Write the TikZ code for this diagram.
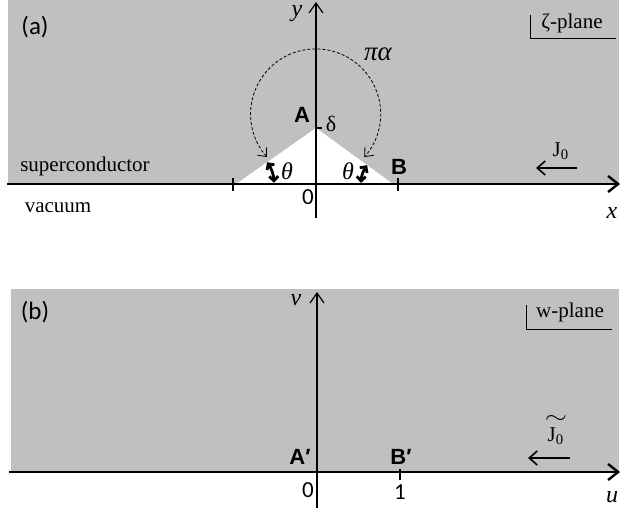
\documentclass[tikz,border=0pt]{standalone}
\usepackage{fontspec}
\setmainfont{Liberation Serif}
\newfontfamily\calsans{Carlito}
\newfontfamily\arsans{Liberation Sans}
\usetikzlibrary{arrows.meta}
\definecolor{planegray}{RGB}{192,192,192}

\begin{document}
\begin{tikzpicture}[x=0.5pt,y=0.5pt,
  axis/.style={line width=1.2pt,-{Straight Barb[length=5pt,width=8pt]}},
  yaxis/.style={line width=0.6pt,-{Straight Barb[length=5pt,width=7pt]}},
  tickmark/.style={line width=0.6pt},
  corner/.style={line width=0.5pt},
  ptlabel/.style={font=\arsans\bfseries\fontsize{11}{13}\selectfont},
  numlabel/.style={font=\calsans\fontsize{11.5}{13}\selectfont},
  axlabel/.style={font=\itshape\fontsize{12}{14}\selectfont,inner sep=1pt},
  txtlabel/.style={font=\fontsize{10.5}{12}\selectfont},
  jarrow/.style={line width=0.8pt,-{Straight Barb[length=4pt,width=7pt]}},
  thetaarr/.style={line width=1.4pt,{Straight Barb[length=2.2pt,width=4.5pt]}-{Straight Barb[length=2.2pt,width=4.5pt]}},
  anglearc/.style={line width=0.4pt,dash pattern=on 1.5pt off 1pt,{Straight Barb[length=3.5pt,width=6pt]}-{Straight Barb[length=3.5pt,width=6pt]}}]
\useasboundingbox (0,0) rectangle (620,510);

% (a) zeta-plane
\fill[planegray] (8,326) rectangle (619,510);
\coordinate (cl) at (236,326);
\coordinate (apex) at (316,382);
\coordinate (cr) at (393,326);
\fill[white] (cl) -- (apex) -- (cr) -- cycle;

\coordinate (xs) at (7,326);
\coordinate (xe) at (620,326);
\coordinate (ys) at (316,292);
\coordinate (ye) at (316,508);
\draw[axis] (xs) -- (xe);
\draw[yaxis] (ys) -- (ye);
\draw[tickmark] (233,319) -- (233,332);
\draw[tickmark] (398,319) -- (398,332);
\draw[tickmark] (apex) -- (322,382);

\draw[anglearc] (267,353) arc[start angle=221.5,end angle=-41.5,radius=65];
\draw[thetaarr] ([shift={(35:38)}]cl) arc[start angle=35,end angle=2,radius=38];
\draw[thetaarr] ([shift={(144:32)}]cr) arc[start angle=144,end angle=178,radius=32];

\node[numlabel,font=\calsans\fontsize{12.5}{14}\selectfont] (taga) at (35,483) {(a)};
\node[ptlabel] (ptA) at (302,395) {A};
\node[ptlabel] (ptB) at (399,343) {B};
\node[txtlabel,font=\fontsize{11}{13}\selectfont] (delta) at (331,386) {δ};
\node[axlabel,font=\itshape\fontsize{13.5}{15}\selectfont] (pialpha) at (378,456) {πα};
\node[axlabel] (thl) at (287,339) {θ};
\node[axlabel] (thr) at (348,339) {θ};
\node[numlabel] (zeroa) at (308,313) {0};
\node[txtlabel] (sc) at (85,344) {superconductor};
\node[txtlabel] (vac) at (58,302) {vacuum};
\node[axlabel] (xlab) at (612,297) {x};
\node[axlabel] (ylab) at (297,496) {y};

\draw[corner] (530,495) -- (530,471) -- (616,471);
\node[txtlabel] (zplane) at (572,487) {ζ-plane};
\node[txtlabel] (jzero) at (561,359) {J\textsubscript{0}};
\coordinate (ja) at (577,342);
\coordinate (jb) at (536,342);
\draw[jarrow] (ja) -- (jb);

% (b) w-plane
\fill[planegray] (11,38) rectangle (619,221);
\coordinate (us) at (9,38);
\coordinate (ue) at (620,38);
\coordinate (vs) at (317,2);
\coordinate (ve) at (317,218);
\draw[axis] (us) -- (ue);
\draw[yaxis] (vs) -- (ve);
\draw[tickmark] (400,30) -- (400,41);

\node[numlabel,font=\calsans\fontsize{12.5}{14}\selectfont] (tagb) at (35,198) {(b)};
\node[ptlabel] (ptAp) at (300,53) {A′};
\node[ptlabel] (ptBp) at (401,53) {B′};
\node[numlabel] (zerob) at (308,20) {0};
\node[numlabel] (oneb) at (400,18) {1};
\node[axlabel] (vlab) at (296,210) {v};
\node[axlabel] (ulab) at (612,13) {u};

\draw[corner] (526,205) -- (526,181) -- (612,181);
\node[txtlabel] (wplane) at (570,198) {w-plane};
\node[txtlabel,align=center] (jtilde) at (556,80) {\scalebox{1.3}[1]{$\sim$}\\[-3pt]J\textsubscript{0}};
\coordinate (jc) at (570,52);
\coordinate (jd) at (528,52);
\draw[jarrow] (jc) -- (jd);
\end{tikzpicture}
\end{document}
